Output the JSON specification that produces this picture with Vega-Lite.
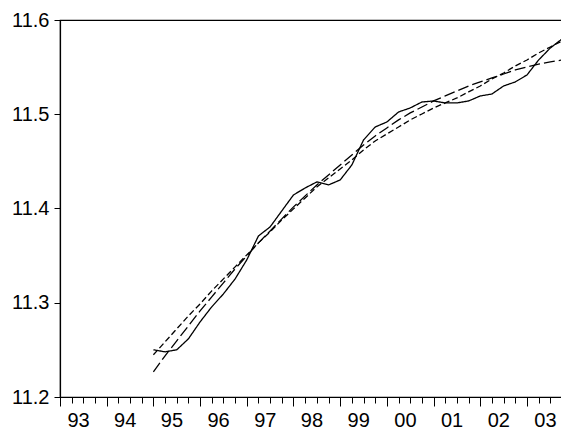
{
  "$schema": "https://vega.github.io/schema/vega-lite/v6.json",
  "width": 502,
  "height": 377,
  "autosize": {"type": "none"},
  "padding": {"left": 60, "top": 20, "right": 0, "bottom": 41},
  "background": "white",
  "config": {
    "view": {"stroke": "black", "strokeWidth": 1.2},
    "axis": {"labelFont": "Liberation Sans", "labelFontSize": 20, "labelColor": "black", "domainColor": "black", "tickColor": "black", "grid": false, "domainWidth": 1.2, "tickWidth": 1}
  },
  "data": {"values": [
    {"t":1995,"s":"actual","v":11.2501},{"t":1995.25,"s":"actual","v":11.2479},{"t":1995.5,"s":"actual","v":11.2501},{"t":1995.75,"s":"actual","v":11.2617},
    {"t":1996,"s":"actual","v":11.2797},{"t":1996.25,"s":"actual","v":11.2957},{"t":1996.5,"s":"actual","v":11.3094},{"t":1996.75,"s":"actual","v":11.3253},
    {"t":1997,"s":"actual","v":11.3455},{"t":1997.25,"s":"actual","v":11.3709},{"t":1997.5,"s":"actual","v":11.3805},{"t":1997.75,"s":"actual","v":11.3975},
    {"t":1998,"s":"actual","v":11.4144},{"t":1998.25,"s":"actual","v":11.4218},{"t":1998.5,"s":"actual","v":11.4282},{"t":1998.75,"s":"actual","v":11.4250},
    {"t":1999,"s":"actual","v":11.4303},{"t":1999.25,"s":"actual","v":11.4462},{"t":1999.5,"s":"actual","v":11.4727},{"t":1999.75,"s":"actual","v":11.4865},
    {"t":2000,"s":"actual","v":11.4918},{"t":2000.25,"s":"actual","v":11.5024},{"t":2000.5,"s":"actual","v":11.5067},{"t":2000.75,"s":"actual","v":11.5130},
    {"t":2001,"s":"actual","v":11.5141},{"t":2001.25,"s":"actual","v":11.5120},{"t":2001.5,"s":"actual","v":11.5120},{"t":2001.75,"s":"actual","v":11.5141},
    {"t":2002,"s":"actual","v":11.5194},{"t":2002.25,"s":"actual","v":11.5215},{"t":2002.5,"s":"actual","v":11.5300},{"t":2002.75,"s":"actual","v":11.5343},
    {"t":2003,"s":"actual","v":11.5417},{"t":2003.25,"s":"actual","v":11.5576},{"t":2003.5,"s":"actual","v":11.5703},{"t":2003.75,"s":"actual","v":11.5799},

    {"t":1995,"s":"fit1","v":11.2448},{"t":1995.25,"s":"fit1","v":11.2585},{"t":1995.5,"s":"fit1","v":11.2723},{"t":1995.75,"s":"fit1","v":11.2861},
    {"t":1996,"s":"fit1","v":11.2988},{"t":1996.25,"s":"fit1","v":11.3126},{"t":1996.5,"s":"fit1","v":11.3253},{"t":1996.75,"s":"fit1","v":11.3381},
    {"t":1997,"s":"fit1","v":11.3508},{"t":1997.25,"s":"fit1","v":11.3635},{"t":1997.5,"s":"fit1","v":11.3752},{"t":1997.75,"s":"fit1","v":11.3879},
    {"t":1998,"s":"fit1","v":11.3996},{"t":1998.25,"s":"fit1","v":11.4112},{"t":1998.5,"s":"fit1","v":11.4229},{"t":1998.75,"s":"fit1","v":11.4325},
    {"t":1999,"s":"fit1","v":11.4420},{"t":1999.25,"s":"fit1","v":11.4515},{"t":1999.5,"s":"fit1","v":11.4621},{"t":1999.75,"s":"fit1","v":11.4717},
    {"t":2000,"s":"fit1","v":11.4791},{"t":2000.25,"s":"fit1","v":11.4865},{"t":2000.5,"s":"fit1","v":11.4940},{"t":2000.75,"s":"fit1","v":11.5003},
    {"t":2001,"s":"fit1","v":11.5067},{"t":2001.25,"s":"fit1","v":11.5120},{"t":2001.5,"s":"fit1","v":11.5173},{"t":2001.75,"s":"fit1","v":11.5237},
    {"t":2002,"s":"fit1","v":11.5300},{"t":2002.25,"s":"fit1","v":11.5374},{"t":2002.5,"s":"fit1","v":11.5438},{"t":2002.75,"s":"fit1","v":11.5512},
    {"t":2003,"s":"fit1","v":11.5576},{"t":2003.25,"s":"fit1","v":11.5650},{"t":2003.5,"s":"fit1","v":11.5714},{"t":2003.75,"s":"fit1","v":11.5777},

    {"t":1995,"s":"fit2","v":11.2267},{"t":1995.25,"s":"fit2","v":11.2437},{"t":1995.5,"s":"fit2","v":11.2596},{"t":1995.75,"s":"fit2","v":11.2755},
    {"t":1996,"s":"fit2","v":11.2914},{"t":1996.25,"s":"fit2","v":11.3063},{"t":1996.5,"s":"fit2","v":11.3211},{"t":1996.75,"s":"fit2","v":11.3360},
    {"t":1997,"s":"fit2","v":11.3497},{"t":1997.25,"s":"fit2","v":11.3635},{"t":1997.5,"s":"fit2","v":11.3762},{"t":1997.75,"s":"fit2","v":11.3890},
    {"t":1998,"s":"fit2","v":11.4017},{"t":1998.25,"s":"fit2","v":11.4134},{"t":1998.5,"s":"fit2","v":11.4250},{"t":1998.75,"s":"fit2","v":11.4356},
    {"t":1999,"s":"fit2","v":11.4462},{"t":1999.25,"s":"fit2","v":11.4568},{"t":1999.5,"s":"fit2","v":11.4674},{"t":1999.75,"s":"fit2","v":11.4770},
    {"t":2000,"s":"fit2","v":11.4855},{"t":2000.25,"s":"fit2","v":11.4940},{"t":2000.5,"s":"fit2","v":11.5014},{"t":2000.75,"s":"fit2","v":11.5077},
    {"t":2001,"s":"fit2","v":11.5141},{"t":2001.25,"s":"fit2","v":11.5194},{"t":2001.5,"s":"fit2","v":11.5247},{"t":2001.75,"s":"fit2","v":11.5300},
    {"t":2002,"s":"fit2","v":11.5343},{"t":2002.25,"s":"fit2","v":11.5385},{"t":2002.5,"s":"fit2","v":11.5427},{"t":2002.75,"s":"fit2","v":11.5470},
    {"t":2003,"s":"fit2","v":11.5502},{"t":2003.25,"s":"fit2","v":11.5533},{"t":2003.5,"s":"fit2","v":11.5555},{"t":2003.75,"s":"fit2","v":11.5576}
  ]},
  "mark": {"type": "line", "color": "black", "strokeWidth": 1.3, "clip": true},
  "encoding": {
    "x": {
      "field": "t", "type": "quantitative",
      "scale": {"domain": [1993, 2003.75], "nice": false, "zero": false},
      "axis": {
        "title": null,
        "values": [1993,1993.25,1993.5,1993.75,1994,1994.25,1994.5,1994.75,1995,1995.25,1995.5,1995.75,1996,1996.25,1996.5,1996.75,1997,1997.25,1997.5,1997.75,1998,1998.25,1998.5,1998.75,1999,1999.25,1999.5,1999.75,2000,2000.25,2000.5,2000.75,2001,2001.25,2001.5,2001.75,2002,2002.25,2002.5,2002.75,2003,2003.25,2003.5,2003.75],
        "tickSize": {"condition": {"test": "datum.value % 1 === 0", "value": 9}, "value": 6},
        "labelExpr": "datum.value % 1 === 0 ? slice(toString(datum.value), 2) : ''",
        "labelOffset": 18,
        "labelOverlap": false,
        "labelFlush": false,
        "labelPadding": 4
      }
    },
    "y": {
      "field": "v", "type": "quantitative",
      "scale": {"domain": [11.2, 11.6], "nice": false, "zero": false},
      "axis": {"title": null, "values": [11.2, 11.3, 11.4, 11.5, 11.6], "format": ".1f", "tickSize": 6, "labelPadding": 5}
    },
    "strokeDash": {
      "field": "s", "type": "nominal",
      "scale": {"domain": ["actual", "fit1", "fit2"], "range": [[1, 0], [6, 3], [11, 4]]},
      "legend": null
    }
  }
}
